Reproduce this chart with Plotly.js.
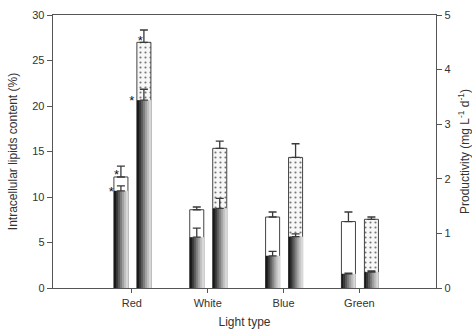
<!DOCTYPE html>
<html>
<head>
<meta charset="utf-8">
<script src="https://cdn.plot.ly/plotly-3.0.1.min.js"></script>
<style>
html,body{margin:0;padding:0;background:#fff;}
#chart{width:472px;height:335px;}
</style>
</head>
<body>
<div id="chart"></div>
<script>
// ---- data ----
var categories = ["Red", "White", "Blue", "Green"];
// Intracellular lipids content (%), left axis
var lipidA = [12.2, 8.6, 7.8, 7.3];
var lipidAErr = [1.2, 0.3, 0.55, 1.05];
var lipidB = [27.0, 15.35, 14.35, 7.55];
var lipidBErr = [1.35, 0.8, 1.5, 0.25];
// Productivity (mg L-1 d-1), right axis
var prodA = [1.78, 0.93, 0.59, 0.26];
var prodAErr = [0.09, 0.165, 0.08, 0.01];
var prodB = [3.44, 1.46, 0.94, 0.29];
var prodBErr = [0.2, 0.18, 0.05, 0.025];
// significance marks
var starsLipidA = [true, false, false, false];
var starsLipidB = [true, false, false, false];
var starsProdA = [true, false, false, false];
var starsProdB = [true, false, false, false];

// ---- layout constants ----
var xIdx = categories.map(function (c, i) { return i; });
var BW = 0.185;           // bar width (category units)
var OFF_A = -0.237;       // left bar offset
var OFF_B = 0.066;        // right bar offset
var NSTRIP = 7;
var FONT = "Liberation Sans, Arial, sans-serif";
var ERRCOL = "#3a3a3a";

var traces = [];

function errObj(arr) {
  return {type: "data", symmetric: false, array: arr, arrayminus: arr.map(function(){return 0;}),
          color: ERRCOL, thickness: 1.3, width: 4};
}

// outline (white) bars - lipid A
traces.push({
  type: "bar", x: xIdx, y: lipidA, offset: OFF_A, width: BW,
  marker: {color: "#ffffff", line: {color: "#444", width: 1}},
  error_y: errObj(lipidAErr), yaxis: "y", hoverinfo: "skip", showlegend: false
});
// dotted bars - lipid B
traces.push({
  type: "bar", x: xIdx, y: lipidB, offset: OFF_B, width: BW,
  marker: {color: "#ffffff", line: {color: "#444", width: 1},
           pattern: {shape: ".", fgcolor: "#777", bgcolor: "#f7f7f7", size: 5, solidity: 0.15}},
  error_y: errObj(lipidBErr), yaxis: "y", hoverinfo: "skip", showlegend: false
});

// gradient bars (productivity), built from narrow strips
var greys = [25, 55, 90, 125, 160, 190, 215];
function addGradient(vals, errs, off) {
  var sw = BW / NSTRIP;
  for (var i = 0; i < NSTRIP; i++) {
    var v = greys[i];
    traces.push({
      type: "bar", x: xIdx, y: vals, offset: off + i * sw, width: sw * 1.2,
      marker: {color: "rgb(" + v + "," + v + "," + v + ")", line: {width: 0}},
      yaxis: "y2", hoverinfo: "skip", showlegend: false
    });
  }
  // error bars on top
  traces.push({
    type: "bar", x: xIdx, y: vals, offset: off, width: BW,
    marker: {color: "rgba(0,0,0,0)", line: {width: 0}},
    error_y: errObj(errs), yaxis: "y2", hoverinfo: "skip", showlegend: false
  });
}
addGradient(prodA, prodAErr, OFF_A);
addGradient(prodB, prodBErr, OFF_B);

// star marks as text traces (drawn on the top subplot so nothing covers them)
function starTrace(flags, vals, dx, dy, yaxis) {
  var xs = [], ys = [];
  for (var c = 0; c < flags.length; c++) {
    if (flags[c]) { xs.push(xIdx[c] + dx); ys.push(vals[c] + dy); }
  }
  return {type: "scatter", mode: "text", x: xs, y: ys, text: xs.map(function(){return "*";}),
    textposition: "middle center", textfont: {family: FONT, size: 13, color: "#111"},
    yaxis: yaxis, hoverinfo: "skip", showlegend: false, cliponaxis: false};
}
traces.push(starTrace(starsProdA, prodA, OFF_A - 0.035, -0.03, "y2"));
traces.push(starTrace(starsProdB, prodB, OFF_B - 0.066, -0.02, "y2"));
// lipid stars converted to the right-axis scale (30 % == 5 units) so they sit above everything
traces.push(starTrace(starsLipidA, lipidA.map(function(v){return v / 6;}), OFF_A + 0.035, 0.02, "y2"));
traces.push(starTrace(starsLipidB, lipidB.map(function(v){return v / 6;}), OFF_B + 0.045, 0.01, "y2"));

var layout = {
  width: 472, height: 335,
  margin: {l: 53, r: 36, t: 15, b: 47, pad: 0},
  paper_bgcolor: "#fff", plot_bgcolor: "#fff",
  barmode: "overlay",
  showlegend: false,
  font: {family: FONT, size: 11, color: "#333"},
  xaxis: {
    range: [-1.04, 4.01], tickvals: xIdx, ticktext: categories,
    showline: true, linecolor: "#555", linewidth: 1.3, mirror: true,
    ticks: "outside", ticklen: 4, tickcolor: "#555", tickwidth: 1,
    showgrid: false, zeroline: false,
    tickfont: {family: FONT, size: 11, color: "#333"},
    title: {text: "Light type", font: {family: FONT, size: 12, color: "#333"}, standoff: 10}
  },
  yaxis: {
    range: [0, 30], tickvals: [0, 5, 10, 15, 20, 25, 30],
    showline: true, linecolor: "#555", linewidth: 1.3,
    ticks: "outside", ticklen: 5, tickcolor: "#555", tickwidth: 1,
    showgrid: false, zeroline: false,
    tickfont: {family: FONT, size: 11, color: "#333"},
    title: {text: "Intracellular lipids content (%)", font: {family: FONT, size: 12, color: "#333"}, standoff: 12}
  },
  yaxis2: {
    range: [0, 5], tickvals: [0, 1, 2, 3, 4, 5],
    overlaying: "y", side: "right",
    showline: true, linecolor: "#555", linewidth: 1.3,
    ticks: "outside", ticklen: 5, tickcolor: "#555", tickwidth: 1,
    showgrid: false, zeroline: false,
    tickfont: {family: FONT, size: 11, color: "#333"},
    title: {text: "Productivity (mg L<sup>-1</sup> d<sup>-1</sup>)", font: {family: FONT, size: 12, color: "#333"}, standoff: 14}
  }
};

Plotly.newPlot("chart", traces, layout, {staticPlot: true, displayModeBar: false});
</script>
</body>
</html>
